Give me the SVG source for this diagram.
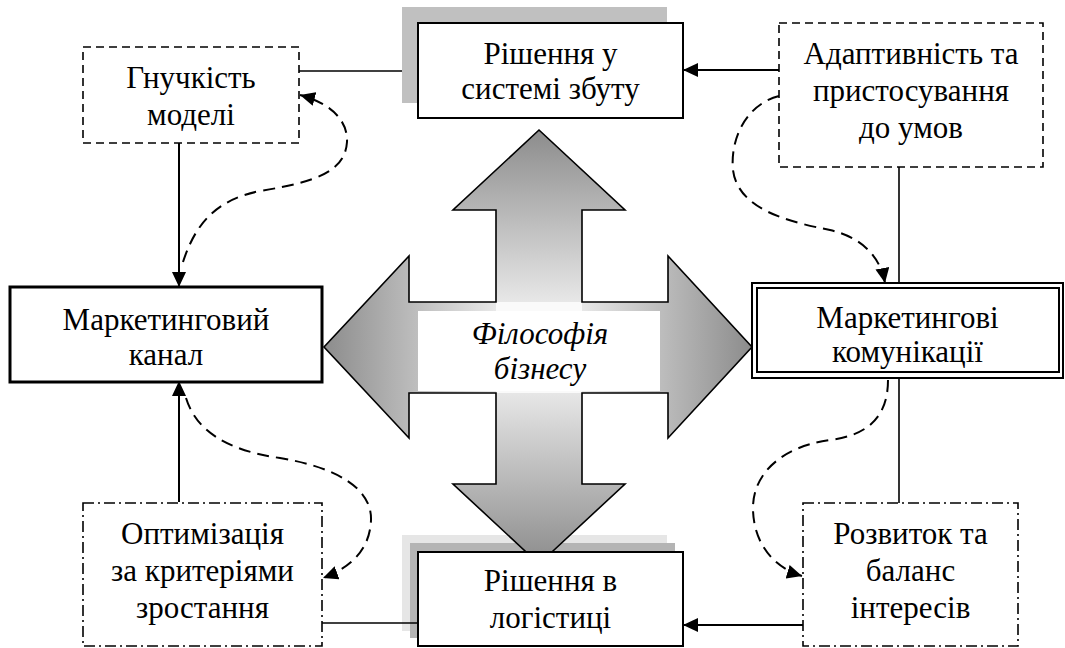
<svg xmlns="http://www.w3.org/2000/svg" width="1065" height="648" viewBox="0 0 1065 648">
  <style>
    text { font-family: "Liberation Serif", "Times New Roman", serif; font-size: 31px; fill: #000; text-anchor: middle; }
    .ital { font-style: italic; }
    .box { fill: #fff; stroke: #000; }
    .solid { stroke-width: 2; }
    .thick { stroke-width: 3; }
    .dashed { stroke-width: 1.6; stroke-dasharray: 8 5; }
    .dashdot { stroke-width: 1.6; stroke-dasharray: 11 4 2 4; }
    .link { fill: none; stroke: #000; stroke-width: 1.6; }
    .flow { fill: none; stroke: #000; stroke-width: 2; }
    .loop { fill: none; stroke: #000; stroke-width: 2; stroke-dasharray: 12 7; }
  </style>
  <defs>
    <marker id="head" markerUnits="userSpaceOnUse" markerWidth="15" markerHeight="14" refX="15" refY="7" orient="auto">
      <path d="M0,0 L15,7 L0,14 Z" fill="#000"/>
    </marker>
    <linearGradient id="gradV" gradientUnits="userSpaceOnUse" x1="0" y1="130" x2="0" y2="564">
      <stop offset="0" stop-color="#8c8c8c"/>
      <stop offset="0.5" stop-color="#ffffff"/>
      <stop offset="1" stop-color="#8c8c8c"/>
    </linearGradient>
    <linearGradient id="gradH" gradientUnits="userSpaceOnUse" x1="324" y1="0" x2="752" y2="0">
      <stop offset="0" stop-color="#8c8c8c"/>
      <stop offset="0.5" stop-color="#ffffff"/>
      <stop offset="1" stop-color="#8c8c8c"/>
    </linearGradient>
  </defs>

  <!-- shadow behind the logistics box (sits under the central cross) -->
  <g id="logistics-shadow">
    <rect x="402" y="535" width="265" height="96" fill="#e6e6e6"/>
    <rect x="410" y="543" width="265" height="95" fill="#b4b4b4"/>
  </g>

  <!-- central four-way arrow -->
  <g id="node-philosophy">
    <path d="M539,130 L625,210 L582,210 L582,484 L625,484 L539,564 L453,484 L496,484 L496,210 L453,210 Z" fill="url(#gradV)"/>
    <path d="M324,347 L409,256 L409,302 L668,302 L668,256 L752,347 L668,438 L668,393 L409,393 L409,438 Z" fill="url(#gradH)"/>
    <rect x="496" y="302" width="86" height="91" fill="#fafafa"/>
    <path d="M539,130 L625,210 L582,210 L582,302 L668,302 L668,256 L752,347 L668,438 L668,393 L582,393 L582,484 L625,484 L539,564 L453,484 L496,484 L496,393 L409,393 L409,438 L324,347 L409,256 L409,302 L496,302 L496,210 L453,210 Z" fill="none" stroke="#000" stroke-width="1.6" stroke-linejoin="miter"/>
    <rect x="418" y="311" width="242" height="80" fill="#fff"/>
    <text class="ital" x="540" y="344">Філософія</text>
    <text class="ital" x="540" y="379">бізнесу</text>
  </g>

  <!-- connectors -->
  <g id="connectors">
    <line class="link" x1="299" y1="71" x2="418" y2="71"/>
    <line class="flow" x1="779" y1="70" x2="683" y2="70" marker-end="url(#head)"/>
    <line class="flow" x1="179" y1="143" x2="179" y2="287" marker-end="url(#head)"/>
    <line class="flow" x1="179" y1="502" x2="179" y2="381" marker-end="url(#head)"/>
    <line class="link" x1="899" y1="167" x2="899" y2="283"/>
    <line class="link" x1="899" y1="378" x2="899" y2="503"/>
    <line class="link" x1="322" y1="623" x2="418" y2="623"/>
    <line class="flow" x1="803" y1="625" x2="683" y2="625" marker-end="url(#head)"/>
    <path class="loop" d="M183,262 C195,225 215,200 260,191 C315,182 345,172 347,142 C348,120 330,103 300,95" marker-end="url(#head)"/>
    <path class="loop" d="M779,96 C745,105 730,140 733,170 C738,210 790,222 830,230 C860,237 880,255 885,283" marker-end="url(#head)"/>
    <path class="loop" d="M888,380 C888,415 870,435 830,440 C780,447 752,475 753,510 C754,545 775,568 802,576" marker-end="url(#head)"/>
    <path class="loop" d="M186,398 C196,430 225,450 280,458 C340,468 372,490 371,520 C370,550 350,568 323,578" marker-end="url(#head)"/>
  </g>

  <g id="node-sales">
    <rect x="402" y="7" width="265" height="96" fill="#c0c0c0"/>
    <rect class="box solid" x="418" y="23" width="265" height="95"/>
    <text x="550.5" y="64">Рішення у</text>
    <text x="550.5" y="99">системі збуту</text>
  </g>

  <g id="node-flexibility">
    <rect class="box dashed" x="83" y="47" width="216" height="96"/>
    <text x="191" y="88">Гнучкість</text>
    <text x="191" y="125">моделі</text>
  </g>

  <g id="node-adaptivity">
    <rect class="box dashed" x="779" y="23" width="264" height="144"/>
    <text x="911" y="64">Адаптивність та</text>
    <text x="911" y="101">пристосування</text>
    <text x="911" y="138">до умов</text>
  </g>

  <g id="node-channel">
    <rect class="box thick" x="10" y="287" width="312" height="95"/>
    <text x="166" y="330">Маркетинговий</text>
    <text x="166" y="365">канал</text>
  </g>

  <g id="node-communications">
    <rect class="box solid" x="752" y="283" width="311" height="95"/>
    <rect fill="none" stroke="#000" stroke-width="2" x="757" y="288" width="302" height="84"/>
    <text x="907.5" y="328">Маркетингові</text>
    <text x="907.5" y="362">комунікації</text>
  </g>

  <g id="node-optimization">
    <rect class="box dashdot" x="83" y="503" width="239" height="143"/>
    <text x="202.5" y="544">Оптимізація</text>
    <text x="202.5" y="581">за критеріями</text>
    <text x="202.5" y="618">зростання</text>
  </g>

  <g id="node-logistics">
    <rect class="box solid" x="418" y="552" width="265" height="94"/>
    <text x="550.5" y="591">Рішення в</text>
    <text x="550.5" y="628">логістиці</text>
  </g>

  <g id="node-development">
    <rect class="box dashdot" x="803" y="503" width="215" height="143"/>
    <text x="910.5" y="544">Розвиток та</text>
    <text x="910.5" y="581">баланс</text>
    <text x="910.5" y="618">інтересів</text>
  </g>
</svg>
